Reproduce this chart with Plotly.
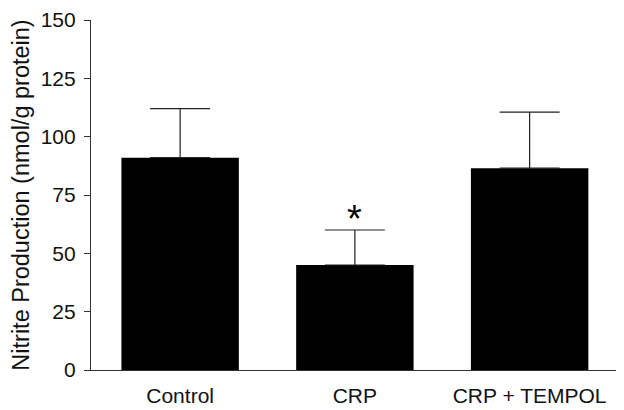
import plotly.graph_objects as go

categories = ["Control", "CRP", "CRP + TEMPOL"]
means = [91.0, 45.0, 86.5]
sem_plus = [21.0, 15.0, 24.0]
y_ticks = [0, 25, 50, 75, 100, 125, 150]
significant = [False, True, False]

FONT = "Liberation Sans, Arial, sans-serif"
AX = "#333333"
TXT = "#111111"

fig = go.Figure()
fig.add_trace(go.Bar(
    x=categories, y=means,
    width=0.672,
    marker=dict(color="black", line=dict(width=0)),
    error_y=dict(type="data", symmetric=False, array=sem_plus,
                 arrayminus=[0] * len(means),
                 color="#222222", thickness=1.2, width=30),
    showlegend=False,
))

for c, m, e, s in zip(categories, means, sem_plus, significant):
    if s:
        fig.add_annotation(x=c, y=m + e, text="*", showarrow=False,
                           yanchor="bottom", yshift=-12,
                           font=dict(family=FONT, size=38, color="black"))

# page body has an 8px default margin, so the figure is 8px smaller
fig.update_layout(
    width=616, height=402,
    margin=dict(l=83, r=7, t=12, b=40),
    plot_bgcolor="white", paper_bgcolor="white",
    font=dict(family=FONT, color=TXT),
)
fig.update_xaxes(
    range=[-0.51, 2.5], showline=True, linecolor=AX, linewidth=1.2,
    ticks="outside", ticklen=7, tickcolor="rgba(0,0,0,0)",
    tickfont=dict(size=21, family=FONT, color=TXT),
    showgrid=False, zeroline=False, automargin=False,
)
fig.update_yaxes(
    range=[0, 150], tickvals=y_ticks, showline=True, linecolor=AX, linewidth=1.2,
    ticks="outside", ticklen=6, tickcolor=AX, tickwidth=1.2,
    ticklabelstandoff=4,
    tickfont=dict(size=21, family=FONT, color=TXT),
    title=dict(text="Nitrite Production (nmol/g protein)", standoff=6,
               font=dict(size=23.5, family=FONT, color=TXT)),
    showgrid=False, zeroline=False, automargin=False,
)

fig.write_html("out.html")
